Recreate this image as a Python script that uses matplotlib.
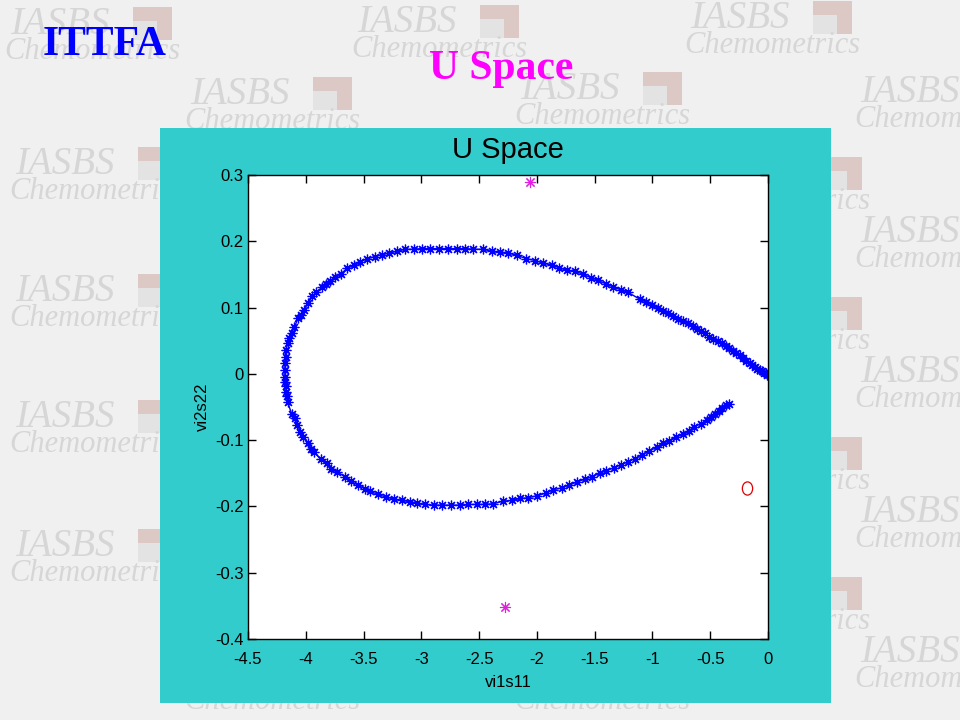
import matplotlib
matplotlib.use('Agg')
import matplotlib.pyplot as plt
from matplotlib.patches import Rectangle
from matplotlib.path import Path
from matplotlib.transforms import Affine2D
from matplotlib.ticker import MultipleLocator, FormatStrFormatter

plt.rcParams['axes.unicode_minus'] = False

# ─────────────────────────────────────────────
# data
# ─────────────────────────────────────────────

# upper branch, left to right
upper_x = [-4.181, -4.181, -4.181, -4.175, -4.172, -4.158, -4.144, -4.123, -4.101, -4.066,
           -4.043, -4.014, -3.985, -3.942, -3.908, -3.856, -3.828, -3.790, -3.750, -3.698,
           -3.641, -3.584, -3.532, -3.474, -3.405, -3.339, -3.282, -3.210, -3.138, -3.066,
           -2.994, -2.922, -2.851, -2.765, -2.692, -2.621, -2.549, -2.468, -2.391, -2.319,
           -2.247, -2.175, -2.095, -2.017, -1.946, -1.873, -1.808, -1.739, -1.666, -1.601,
           -1.529, -1.471, -1.405, -1.342, -1.276, -1.213, -1.112, -1.055, -1.003, -0.954,
           -0.911, -0.868, -0.825, -0.782, -0.739, -0.696, -0.653, -0.618, -0.580, -0.543,
           -0.509, -0.474, -0.437, -0.399, -0.365, -0.336, -0.302, -0.273, -0.244, -0.216,
           -0.187, -0.158, -0.135, -0.112, -0.092, -0.071, -0.054, -0.037, -0.020, -0.006]
upper_y = [-0.004, 0.006, 0.016, 0.026, 0.036, 0.046, 0.054, 0.061, 0.070, 0.084,
           0.089, 0.097, 0.107, 0.117, 0.123, 0.131, 0.135, 0.140, 0.146, 0.151,
           0.159, 0.164, 0.169, 0.173, 0.177, 0.180, 0.182, 0.185, 0.188, 0.188,
           0.189, 0.189, 0.189, 0.189, 0.189, 0.189, 0.188, 0.188, 0.185, 0.184,
           0.182, 0.179, 0.174, 0.171, 0.167, 0.164, 0.160, 0.156, 0.155, 0.150,
           0.145, 0.141, 0.136, 0.131, 0.127, 0.123, 0.113, 0.109, 0.104, 0.099,
           0.095, 0.092, 0.088, 0.083, 0.079, 0.076, 0.072, 0.068, 0.064, 0.061,
           0.056, 0.053, 0.049, 0.046, 0.042, 0.039, 0.035, 0.031, 0.028, 0.024,
           0.020, 0.017, 0.014, 0.011, 0.008, 0.006, 0.004, 0.002, 0.001, -0.001]

# lower branch, left to right
lower_x = [-4.181, -4.172, -4.172, -4.164, -4.158, -4.123, -4.095, -4.072, -4.049, -4.020,
           -3.980, -3.957, -3.928, -3.871, -3.819, -3.779, -3.727, -3.664, -3.606, -3.549,
           -3.491, -3.440, -3.377, -3.302, -3.233, -3.167, -3.095, -3.037, -2.966, -2.894,
           -2.822, -2.744, -2.664, -2.592, -2.520, -2.448, -2.377, -2.290, -2.218, -2.147,
           -2.075, -2.003, -1.922, -1.859, -1.787, -1.722, -1.653, -1.586, -1.520, -1.457,
           -1.399, -1.336, -1.270, -1.213, -1.155, -1.089, -1.026, -0.963, -0.911, -0.853,
           -0.796, -0.739, -0.687, -0.638, -0.580, -0.532, -0.494, -0.457, -0.422, -0.394,
           -0.365, -0.336]
lower_y = [-0.012, -0.019, -0.027, -0.034, -0.042, -0.060, -0.067, -0.077, -0.087, -0.095,
           -0.105, -0.113, -0.118, -0.129, -0.135, -0.143, -0.148, -0.155, -0.162, -0.168,
           -0.173, -0.177, -0.182, -0.186, -0.189, -0.191, -0.193, -0.195, -0.197, -0.198,
           -0.198, -0.198, -0.198, -0.197, -0.197, -0.197, -0.196, -0.192, -0.191, -0.188,
           -0.187, -0.184, -0.180, -0.175, -0.172, -0.168, -0.163, -0.159, -0.155, -0.150,
           -0.146, -0.142, -0.137, -0.133, -0.128, -0.122, -0.116, -0.111, -0.105, -0.101,
           -0.096, -0.091, -0.086, -0.080, -0.075, -0.070, -0.065, -0.061, -0.056, -0.051,
           -0.047, -0.046]

star_x = [-2.06, -2.276]
star_y = [0.289, -0.352]
circle_x = [-0.181]
circle_y = [-0.172]

x_ticks = [-4.5, -4, -3.5, -3, -2.5, -2, -1.5, -1, -0.5, 0]
y_ticks = [-0.4, -0.3, -0.2, -0.1, 0, 0.1, 0.2, 0.3]

# watermark tiles (left, top) in pixels
wm_pos = [(10, 10), (357, 8), (690, 4), (190, 80), (520, 75), (860, 78),
          (15, 150), (15, 277), (15, 403), (15, 532),
          (860, 218), (860, 358), (860, 498), (860, 638),
          (700, 160), (700, 300), (700, 440), (700, 580), (190, 660), (520, 660)]

# ─────────────────────────────────────────────
# slide background
# ─────────────────────────────────────────────
fig = plt.figure(figsize=(9.6, 7.2), dpi=100)
fig.patch.set_facecolor('#f0f0f0')

bg = fig.add_axes([0, 0, 1, 1])
bg.set_xlim(0, 960)
bg.set_ylim(720, 0)
bg.axis('off')

for (wx, wy) in wm_pos:
    bg.text(wx, wy - 4, 'IASBS', ha='left', va='top', color='#d6d6d6',
            fontsize=28, style='italic', family='Liberation Serif', zorder=1)
    bg.add_patch(Rectangle((wx + 123, wy - 3), 39, 33, facecolor='#dcc9c6',
                           edgecolor='none', zorder=1))
    bg.add_patch(Rectangle((wx + 123, wy + 11), 24, 19, facecolor='#e3e3e3',
                           edgecolor='none', zorder=1))
    bg.text(wx - 6, wy + 27, 'Chemometrics', ha='left', va='top', color='#d6d6d6',
            fontsize=22, style='italic', family='Liberation Serif', zorder=1)

bg.text(43, 55, 'ITTFA', ha='left', va='baseline', color='#0000ff',
        fontsize=30, fontweight='bold', family='Liberation Serif', zorder=3)
bg.text(501, 79, 'U Space', ha='center', va='baseline', color='#ff00ff',
        fontsize=30, fontweight='bold', family='Liberation Serif', zorder=3)

# MATLAB figure panel
bg.add_patch(Rectangle((160, 128), 671, 575, facecolor='#33cccc',
                       edgecolor='none', zorder=2))

# ─────────────────────────────────────────────
# U space plot
# ─────────────────────────────────────────────
ax = fig.add_axes([248 / 960, 1 - 639 / 720, 520 / 960, 464 / 720])
ax.set_facecolor('white')

path_x = upper_x[::-1] + lower_x
path_y = upper_y[::-1] + lower_y
ax.plot(path_x, path_y, '-', color='#0000ff', lw=1.0,
        marker=(8, 2, 0), ms=7, mew=0.9, mec='#0000ff')
ax.plot(star_x, star_y, ls='none', marker=(8, 2, 0), ms=8, mew=0.8, color='#e020e0')

ellipse = Path.unit_circle().transformed(Affine2D().scale(0.78, 1.0))
ax.plot(circle_x, circle_y, ls='none', marker=ellipse, ms=9.5, mfc='none',
        mec='#dd0000', mew=0.9)

ax.set_xlim(-4.5, 0)
ax.set_ylim(-0.4, 0.3)
ax.xaxis.set_major_locator(MultipleLocator(0.5))
ax.yaxis.set_major_locator(MultipleLocator(0.1))
ax.set_xticks(x_ticks)
ax.set_yticks(y_ticks)
ax.xaxis.set_major_formatter(FormatStrFormatter('%g'))
ax.yaxis.set_major_formatter(FormatStrFormatter('%g'))
ax.tick_params(direction='in', length=6, width=1, top=True, right=True,
               labelsize=12, colors='black')
ax.tick_params(axis='x', pad=9)
ax.tick_params(axis='y', pad=3)
for lab in ax.get_xticklabels() + ax.get_yticklabels():
    lab.set_family('Liberation Sans')
for sp in ax.spines.values():
    sp.set_color('black')
    sp.set_linewidth(1)

ax.set_xlabel('vi1s11', fontsize=12, family='Liberation Sans', labelpad=6)
ax.set_ylabel('vi2s22', fontsize=12, family='Liberation Sans', labelpad=4)
ax.set_title('U Space', fontsize=21, family='Liberation Sans', pad=12)

plt.savefig('out.png', dpi=100, facecolor=fig.get_facecolor())
plt.close()
print("Saved out.png")
